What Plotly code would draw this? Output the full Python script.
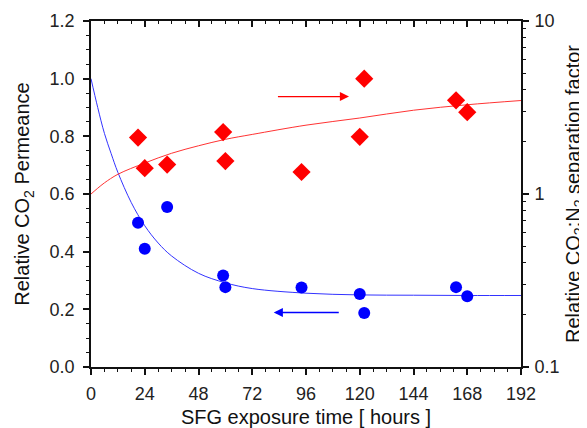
import plotly.graph_objects as go

perm_time = [21, 24, 34, 59, 60, 94, 120, 122, 163, 168]
perm_value = [0.50, 0.41, 0.555, 0.317, 0.277, 0.276, 0.253, 0.187, 0.277, 0.245]

sep_time = [21, 24, 34, 59, 60, 94, 120, 122, 163, 168]
sep_value = [2.12, 1.41, 1.48, 2.28, 1.55, 1.34, 2.14, 4.64, 3.48, 2.97]

# Fitted curves
perm_fit_time = [0, 3, 6, 9, 12, 18, 24, 30, 36, 48, 60, 72, 96, 120, 144, 168, 192]
perm_fit_value = [1.0, 0.90, 0.81, 0.74, 0.675, 0.57, 0.49, 0.43, 0.385, 0.325, 0.292, 0.272, 0.256, 0.250, 0.249, 0.248, 0.248]

sep_fit_time = [0, 3, 6, 12, 24, 36, 48, 60, 72, 96, 120, 144, 168, 192]
sep_fit_value = [1.0, 1.08, 1.16, 1.30, 1.51, 1.72, 1.90, 2.07, 2.21, 2.50, 2.75, 3.05, 3.28, 3.47]

x_ticks = [0, 24, 48, 72, 96, 120, 144, 168, 192]

BLUE = "#0000ff"
RED = "#ff0000"
FONT = "Liberation Sans, Arial, sans-serif"

fig = go.Figure()

fig.add_trace(go.Scatter(x=perm_fit_time, y=perm_fit_value, mode="lines",
                         line=dict(color="#3333ff", width=1, shape="spline"),
                         yaxis="y", showlegend=False, hoverinfo="skip"))
fig.add_trace(go.Scatter(x=sep_fit_time, y=sep_fit_value, mode="lines",
                         line=dict(color="#ff3333", width=1, shape="spline"),
                         yaxis="y2", showlegend=False, hoverinfo="skip"))
fig.add_trace(go.Scatter(x=perm_time, y=perm_value, mode="markers",
                         marker=dict(symbol="circle", size=12, color=BLUE),
                         yaxis="y", showlegend=False))
fig.add_trace(go.Scatter(x=sep_time, y=sep_value, mode="markers",
                         marker=dict(symbol="diamond", size=14, color=RED),
                         yaxis="y2", showlegend=False))
# invisible trace to activate top axis
fig.add_trace(go.Scatter(x=[0, 192], y=[0, 0], xaxis="x2", yaxis="y",
                         mode="markers", marker=dict(opacity=0), showlegend=False,
                         hoverinfo="skip"))

tickfont = dict(family=FONT, size=18, color="#222")
titlefont = dict(family=FONT, size=20, color="#111")

# The page body has an 8px margin, so the figure is sized/offset to compensate.
fig.update_layout(
    width=579, height=420,
    margin=dict(l=83, r=66, t=13, b=61, autoexpand=False),
    paper_bgcolor="white", plot_bgcolor="white",
    xaxis=dict(range=[0, 192], tickvals=x_ticks, ticks="outside", ticklen=6,
               tickwidth=1.5, tickcolor="#111", showline=True, linecolor="#111",
               linewidth=1.8, showgrid=False, zeroline=False, tickfont=tickfont,
               automargin=False, ticklabelstandoff=3,
               minor=dict(dtick=6, ticks="outside", ticklen=3, tickwidth=1.2, tickcolor="#111"),
               title=dict(text="SFG exposure time [ hours ]", font=titlefont, standoff=10)),
    xaxis2=dict(range=[0, 192], overlaying="x", side="top", tickvals=x_ticks,
                ticks="inside", ticklen=6, tickwidth=1.5, tickcolor="#111",
                showticklabels=False, showline=True, linecolor="#111", linewidth=1.8,
                showgrid=False, zeroline=False, automargin=False,
                minor=dict(dtick=6, ticks="inside", ticklen=3, tickwidth=1.2, tickcolor="#111")),
    yaxis=dict(range=[0, 1.2], dtick=0.2, tickformat=".1f", ticks="outside", ticklen=6,
               tickwidth=1.5, tickcolor="#111", showline=True, linecolor="#111",
               linewidth=1.8, showgrid=False, zeroline=False, tickfont=tickfont,
               automargin=False, ticklabelstandoff=5,
               minor=dict(dtick=0.05, ticks="outside", ticklen=3, tickwidth=1.2, tickcolor="#111"),
               title=dict(text="Relative CO<sub>2</sub> Permeance", font=titlefont, standoff=14)),
    yaxis2=dict(type="log", range=[-1, 1], overlaying="y", side="right",
                tickvals=[0.1, 1, 10], ticktext=["0.1", "1", "10"],
                ticks="outside", ticklen=6, tickwidth=1.5, tickcolor="#111",
                showline=True, linecolor="#111", linewidth=1.8, showgrid=False,
                zeroline=False, tickfont=tickfont, automargin=False, ticklabelstandoff=2,
                minor=dict(tickvals=[0.2, 0.3, 0.4, 0.5, 0.6, 0.7, 0.8, 0.9,
                                     2, 3, 4, 5, 6, 7, 8, 9],
                           ticks="outside", ticklen=3, tickwidth=1.2, tickcolor="#111"),
                title=dict(text="Relative CO<sub>2</sub>:N<sub>2</sub> separation factor",
                           font=titlefont, standoff=10)),
    annotations=[
        dict(x=115.2, y=0.938, ax=82.8, ay=0.938, xref="x", yref="y", axref="x", ayref="y",
             text="", showarrow=True, arrowhead=2, arrowsize=1.4, arrowwidth=1.3,
             arrowcolor=RED),
        dict(x=81.6, y=0.189, ax=111.3, ay=0.189, xref="x", yref="y", axref="x", ayref="y",
             text="", showarrow=True, arrowhead=2, arrowsize=1.4, arrowwidth=1.3,
             arrowcolor=BLUE),
    ],
)

fig.write_html("out.html")
